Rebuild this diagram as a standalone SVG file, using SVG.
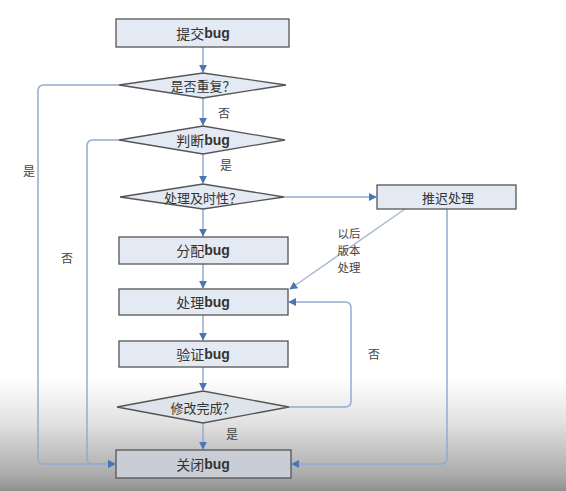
<svg xmlns="http://www.w3.org/2000/svg" width="566" height="491" viewBox="0 0 566 491">
<defs>
<linearGradient id="bg" x1="0" y1="0" x2="0" y2="1">
<stop offset="0" stop-color="#ffffff"/>
<stop offset="0.77" stop-color="#ffffff"/>
<stop offset="0.86" stop-color="#e2e2e2"/>
<stop offset="0.97" stop-color="#a9a9a9"/>
<stop offset="1" stop-color="#8f8f8f"/>
</linearGradient>
<marker id="ah" viewBox="0 0 10 10" refX="9" refY="5" markerWidth="8" markerHeight="8" markerUnits="userSpaceOnUse" orient="auto">
<path d="M0,0 L10,5 L0,10 Z" fill="#4a76b6"/>
</marker>
</defs>
<style>
.box{fill:#e4eaf4;stroke:#555;stroke-width:1.3}
.con{fill:none;stroke:#93abd0;stroke-width:1.5;marker-end:url(#ah)}
.lbl{font-family:"Noto Sans CJK SC","Liberation Sans",sans-serif;font-size:14px;fill:#333;text-anchor:middle;dominant-baseline:central}
.en{font-family:"Liberation Sans",sans-serif;font-weight:bold}
.sm{font-family:"Noto Sans CJK SC",sans-serif;font-size:12px;fill:#444;text-anchor:middle;dominant-baseline:central}
</style>
<rect x="0" y="0" width="566" height="491" fill="url(#bg)"/>

<g id="connectors">
<path class="con" d="M203,47 V72"/>
<path class="con" d="M203,98 V125"/>
<path class="con" d="M203,154 V183"/>
<path class="con" d="M203,209 V236"/>
<path class="con" d="M203,264 V288"/>
<path class="con" d="M203,315 V340"/>
<path class="con" d="M203,367 V390"/>
<path class="con" d="M203,423 V449"/>
<path class="con" d="M284,197 H376"/>
<path class="con" d="M119,85 H44 Q38,85 38,91 V458 Q38,464 44,464 H115"/>
<path class="con" d="M119,140 H93 Q87,140 87,146 V458 Q87,464 93,464 H115"/>
<path class="con" d="M447,209 V458 Q447,464 441,464 H292"/>
<path class="con" d="M289,407 H345 Q351,407 351,401 V308 Q351,302 345,302 H289"/>
<path class="con" d="M405,209 L290,289" style="stroke:#a9b9cf"/>
</g>

<g id="n_submit"><rect class="box" x="116" y="19" width="173" height="28"/><text class="lbl" x="203" y="33">提交<tspan class="en">bug</tspan></text></g>
<g id="n_dup"><polygon class="box" points="119,85 203,73 286,85 203,98"/><text class="lbl" x="203" y="85" style="font-size:13px">是否重复？</text></g>
<g id="n_judge"><polygon class="box" points="119,140 203,126 285,140 203,154"/><text class="lbl" x="203" y="140">判断<tspan class="en">bug</tspan></text></g>
<g id="n_timely"><polygon class="box" points="120,197 203,184 284,197 203,209"/><text class="lbl" x="203" y="197" style="font-size:13px">处理及时性？</text></g>
<g id="n_defer"><rect class="box" x="377" y="185" width="139" height="24"/><text class="lbl" x="448" y="197" style="font-size:13px">推迟处理</text></g>
<g id="n_assign"><rect class="box" x="119" y="237" width="169" height="27"/><text class="lbl" x="203" y="250">分配<tspan class="en">bug</tspan></text></g>
<g id="n_handle"><rect class="box" x="119" y="289" width="169" height="26"/><text class="lbl" x="203" y="302">处理<tspan class="en">bug</tspan></text></g>
<g id="n_verify"><rect class="box" x="119" y="341" width="169" height="26"/><text class="lbl" x="203" y="354">验证<tspan class="en">bug</tspan></text></g>
<g id="n_done"><polygon class="box" points="117,407 203,391 289,407 203,423" style="fill:#dfe3ea"/><text class="lbl" x="203" y="407" style="font-size:13px">修改完成？</text></g>
<g id="n_close"><rect class="box" x="116" y="450" width="175" height="28" style="fill:#c9ced6"/><text class="lbl" x="203" y="464">关闭<tspan class="en">bug</tspan></text></g>

<g id="labels">
<text class="sm" x="29" y="170">是</text>
<text class="sm" x="67" y="257">否</text>
<text class="sm" x="224" y="112">否</text>
<text class="sm" x="226" y="164">是</text>
<text class="sm" x="232" y="433">是</text>
<text class="sm" x="374" y="353">否</text>
<text class="sm" x="349" y="233" style="font-size:11.5px">以后</text>
<text class="sm" x="349" y="250" style="font-size:11.5px">版本</text>
<text class="sm" x="349" y="267" style="font-size:11.5px">处理</text>
</g>
</svg>
